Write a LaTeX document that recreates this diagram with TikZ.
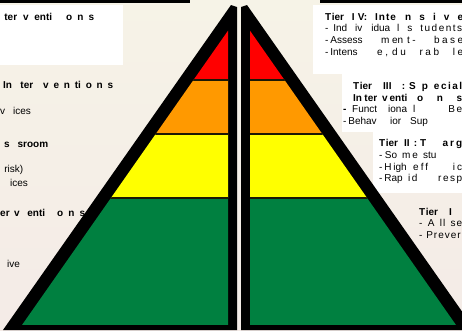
\documentclass[tikz,border=0pt]{standalone}
\usepackage{fontspec}
\setmainfont{Liberation Sans}
\definecolor{bgc}{RGB}{246,243,231}
\definecolor{bgb}{RGB}{244,235,231}
\definecolor{tred}{RGB}{255,0,0}
\definecolor{torange}{RGB}{255,153,0}
\definecolor{tyellow}{RGB}{255,255,0}
\definecolor{tgreen}{RGB}{0,128,64}
\definecolor{sepc}{RGB}{28,24,4}
\newcommand\fr[3]{\makebox[#1pt][s]{#3}\hspace*{#2pt}}
\newcommand\spc[2]{{\addfontfeature{LetterSpace=#1}#2}}
\hbadness=10000
\hfuzz=40pt
\begin{document}
\begin{tikzpicture}[x=1pt,y=-1pt,
  txt/.style={anchor=base west, inner sep=0pt, font=\fontsize{10}{12}\selectfont},
  hd/.style={anchor=base west, inner sep=0pt, font=\fontsize{10}{12}\selectfont\bfseries},
  wbox/.style={fill=white, draw=none},
  sepline/.style={draw=sepc, line width=2.5pt}]
\useasboundingbox (0,0) rectangle (462,330);
\clip (0,0) rectangle (462,330);
\shade[top color=bgc, bottom color=bgb] (0,0) rectangle (462,330);
% top black strips
\fill[black] (0,0) rectangle (190,3);
\fill[black] (320,0) rectangle (462,3);
% white boxes
\fill[wbox] (0,5) rectangle (123,65);
\fill[wbox] (313,5) rectangle (462,74);
\fill[wbox] (342,74) rectangle (462,132);
\fill[wbox] (373,132) rectangle (462,193);
% left half of pyramid
\fill[black] (3,330) -- (231,5) -- (237,7) -- (237,330) -- cycle;
\begin{scope}
  \clip (22,325) -- (228,30.7) -- (228,325) -- cycle;
  \fill[tred] (0,0) rectangle (240,80);
  \fill[torange] (0,80) rectangle (240,134);
  \fill[tyellow] (0,134) rectangle (240,198);
  \fill[tgreen] (0,198) rectangle (240,325);
  \draw[sepline] (0,80) -- (240,80);
  \draw[sepline] (0,134) -- (240,134);
  \draw[sepline] (0,198) -- (240,198);
\end{scope}
% right half of pyramid
\fill[black] (475,330) -- (247,5) -- (241,7) -- (241,330) -- cycle;
\begin{scope}
  \clip (456,325) -- (250,30.7) -- (250,325) -- cycle;
  \fill[tred] (240,0) rectangle (470,80);
  \fill[torange] (240,80) rectangle (470,134);
  \fill[tyellow] (240,134) rectangle (470,198);
  \fill[tgreen] (240,198) rectangle (470,325);
  \draw[sepline] (240,80) -- (470,80);
  \draw[sepline] (240,134) -- (470,134);
  \draw[sepline] (240,198) -- (470,198);
\end{scope}
% right texts
\node[hd] (r4a) at (325,20) {\fr{18}{8.7}{T\kern0.5pt ier}\fr{15.3}{8}{I V:}\fr{22}{8}{\spc{10}{Inte}}\fr{58}{0}{\spc{15}{n s i v e}}};
\node[txt] (r4b) at (325,31) {\fr{22}{8}{- Ind}\fr{35}{7}{iv idua}\fr{65}{0}{\spc{15}{l s tudents}}};
\node[txt] (r4c) at (325,43) {\fr{37}{19}{- Assess}\fr{22}{4}{m en}\fr{56}{0}{\spc{25}{t- base}}};
\node[txt] (r4d) at (325,55) {\fr{32}{20}{- Intens}\fr{11}{4}{e ,}\fr{71}{0}{\spc{25}{du rab le}}};
\node[hd] (r3a) at (353,89) {\fr{20}{10}{T\kern0.5pt ier}\fr{22}{4}{III :}\fr{53}{0}{\spc{15}{S p ecial}}};
\node[hd] (r3b) at (353,101) {\fr{24}{5}{In ter}\fr{25}{10}{v enti}\fr{45}{0}{\spc{15}{o n s}}};
\node[txt] (r3c) at (343,112) {\fr{34}{11}{\textbf{-} Funct}\fr{19}{6}{iona}\fr{49}{0}{\spc{15}{l Be}}};
\node[txt] (r3d) at (343,124) {\fr{32}{15}{- Behav}\fr{13}{7}{ior}Sup};
\node[hd] (r2a) at (379,146) {\fr{19}{6}{T\kern0.5pt ier}\fr{13}{3}{II :}\fr{42}{0}{\spc{20}{T arg}}};
\node[txt] (r2b) at (379,158) {\fr{18}{5}{- So}\fr{15}{6}{m e}stu};
\node[txt] (r2c) at (379,170) {\fr{26}{8}{- H igh}\fr{49}{0}{\spc{20}{eff ic}}};
\node[txt] (r2d) at (379,181) {\fr{23}{6}{- Rap}\fr{54}{0}{\spc{15}{id resp}}};
\node[hd] (r1a) at (419,215) {\fr{20}{10}{T\kern0.5pt ier}I};
\node[txt] (r1b) at (419,226) {\fr{43}{0}{\spc{10}{- A ll se}}};
\node[txt] (r1c) at (419,238) {\spc{10}{- Prever}};
% left texts
\node[hd] (l4) at (0,20) {\makebox[17pt][r]{ter}\hspace*{6pt}\fr{29}{14}{v enti}\fr{28}{0}{o n s}};
\node[hd] (l3) at (3,88) {\fr{30}{10}{In ter}\fr{70}{0}{v e n ti o n s}};
\node[txt] (l3a) at (0,114) {\makebox[5pt][l]{v}\hspace*{8pt}ices};
\node[hd] (l2) at (4,147) {\fr{44}{0}{s sroom}};
\node[txt] (l2a) at (0,172) {\makebox[23pt][r]{risk)}};
\node[txt] (l2b) at (10,186) {ices};
\node[hd] (l1) at (0,216) {\makebox[9.5pt][r]{er}\hspace*{4.5pt}\fr{31}{12}{v enti}\fr{28}{0}{o n s}};
\node[txt] (l1a) at (7,267) {ive};
\end{tikzpicture}
\end{document}
